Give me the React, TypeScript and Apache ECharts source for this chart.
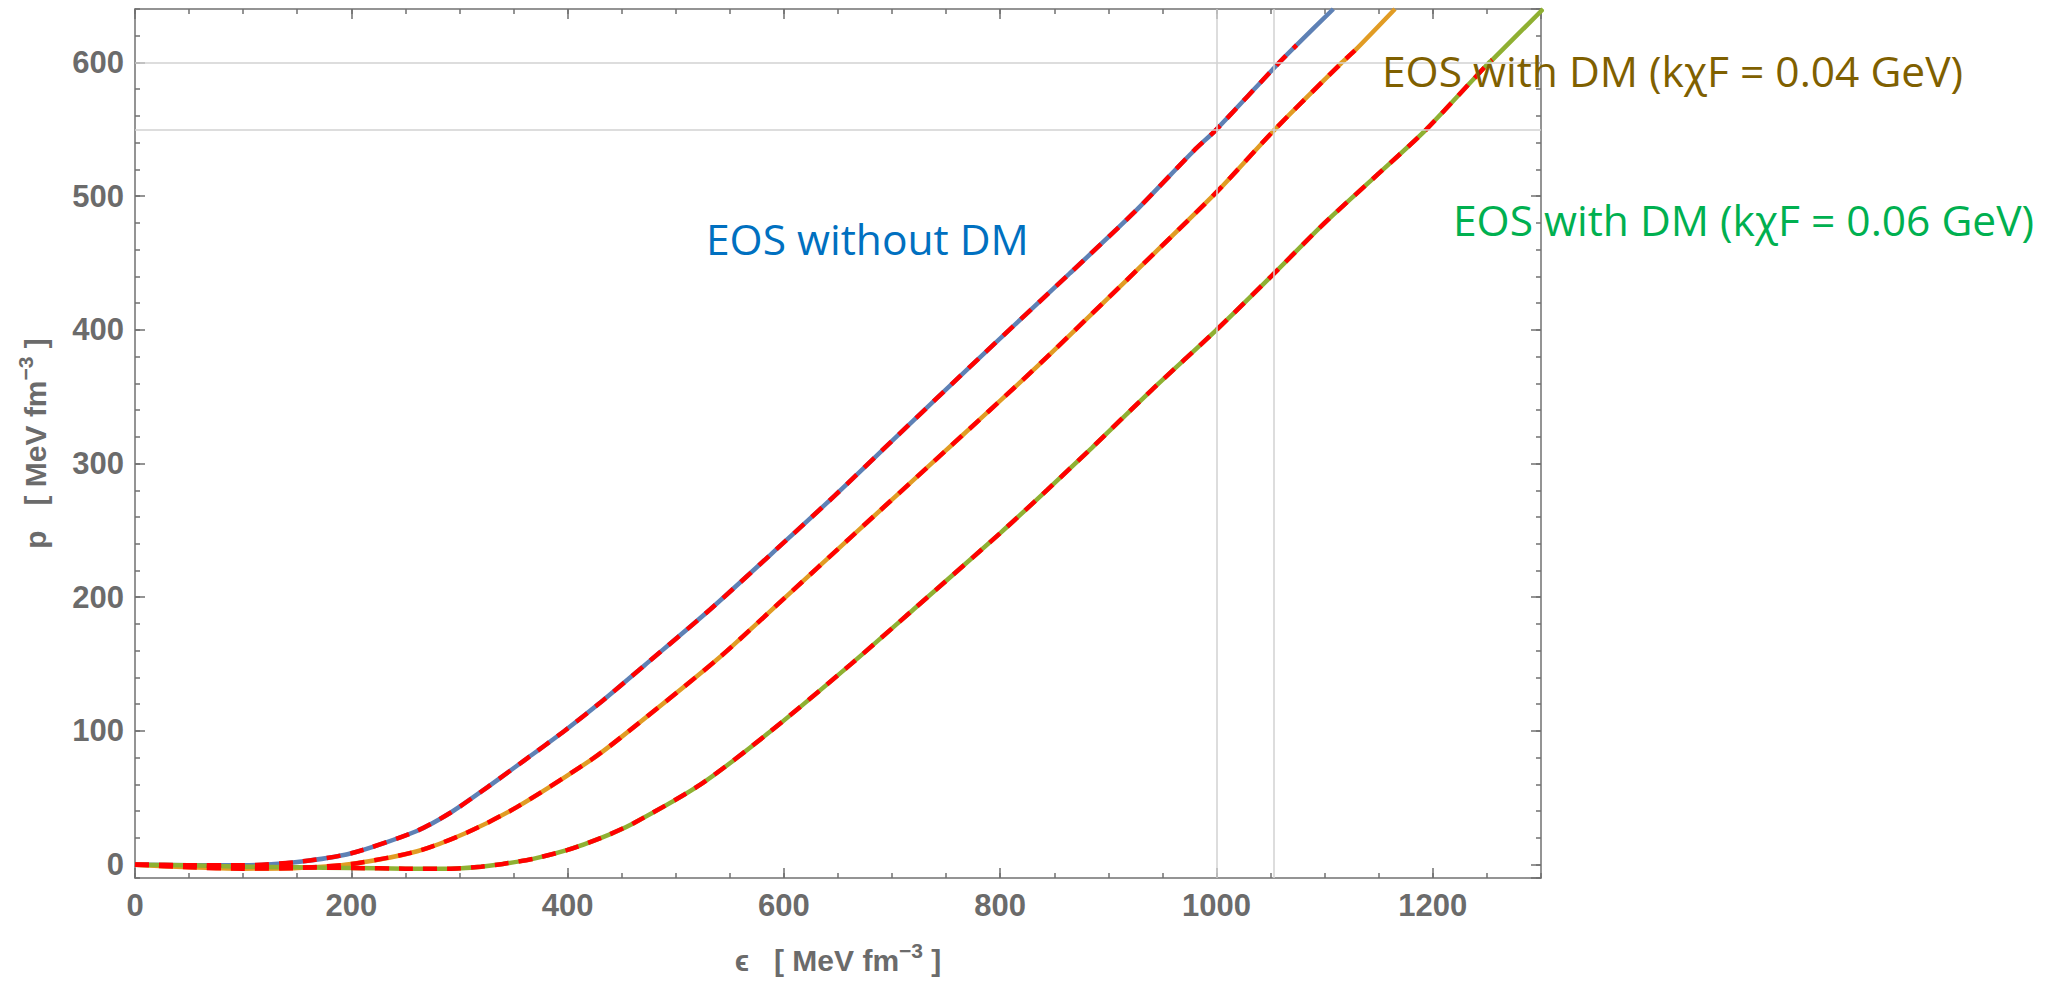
import React, { useEffect, useRef } from "react";
import * as echarts from "echarts";

// ε [MeV fm^-3] and p [MeV fm^-3]
const blueEps = [0, 50, 100, 150, 200, 260, 292, 326, 360, 397, 430, 471, 532, 600, 647, 700, 782, 864, 924, 979, 1000, 1058, 1074, 1108];
const blueP = [0, -0.5, -0.5, 2, 8.5, 25, 39, 58, 78, 100, 121, 149, 191, 241, 276, 317, 380, 442, 488, 534, 550, 600, 613, 640];

const orangeEps = [0, 50, 100, 150, 200, 261, 307, 353, 421, 449, 539, 600, 662, 750, 828, 900, 1000, 1054, 1116, 1128, 1165];
const orangeP = [0, -2, -3, -2.5, 0.5, 10, 24, 43, 78, 95, 154, 199, 245, 310, 368, 424, 503, 550, 600, 609, 640];

const greenEps = [0, 50, 100, 150, 200, 250, 290, 320, 340, 369, 400, 431, 461, 523, 585, 662, 720, 800, 843, 885, 940, 1000, 1053, 1100, 1150, 1194, 1252, 1255, 1302];
const greenP = [0, -0.5, -1.5, -2, -2.5, -3, -3, -1.5, 0.5, 4.5, 11, 20, 31, 60, 98, 150, 191, 248, 280, 312, 355, 400, 442, 480, 517, 550, 600, 602, 640];

// red dashed overlays end at these ε values
const dashEndBlue = 1074;
const dashEndOrange = 1128;
const dashEndGreen = 1255;

// reference grid lines
const gridLinesX = [1000, 1053];
const gridLinesY = [550, 600];

const xRange = [0, 1300];
const yRange = [-10, 640];

const AXIS_COLOR = "#707070";
const LABEL_COLOR = "#6b6b6b";

function pairs(xs: number[], ys: number[]) {
  return xs.map((x, i) => [x, ys[i]]);
}
function upTo(xs: number[], ys: number[], end: number) {
  return pairs(xs, ys).filter((d) => d[0] <= end);
}

const nameRich = {
  b: { fontSize: 30, fontWeight: "bold", fontFamily: "Liberation Sans", color: LABEL_COLOR, lineHeight: 40 },
  s: { fontSize: 21, fontWeight: "bold", fontFamily: "Liberation Sans", color: LABEL_COLOR, verticalAlign: "top" },
};

export default function App() {
  const ref = useRef<HTMLDivElement>(null);
  useEffect(() => {
    if (!ref.current) return;
    const chart = echarts.init(ref.current, undefined, { renderer: "svg" });
    const tickLine = { color: AXIS_COLOR, width: 1.5 };
    const baseX = { type: "value", min: xRange[0], max: xRange[1], splitLine: { show: false } };
    const baseY = { type: "value", min: yRange[0], max: yRange[1], splitLine: { show: false } };
    const noLabel = { show: false };
    const line = (c: string, w: number, dashed: boolean) => ({
      color: c,
      width: w,
      type: dashed ? [14, 10] : "solid",
      dashOffset: 0,
    });
    const curve = (name: string, data: number[][], style: any, z: number) => ({
      name,
      type: "line",
      data,
      showSymbol: false,
      smooth: 0.25,
      silent: true,
      z,
      lineStyle: style,
    });
    chart.setOption({
      animation: false,
      backgroundColor: "#ffffff",
      grid: { left: 135, top: 9, width: 1406, height: 869, containLabel: false, outerBoundsMode: "none" },
      xAxis: [
        {
          ...baseX,
          position: "bottom",
          interval: 200,
          axisLine: { show: true, onZero: false, lineStyle: tickLine },
          axisTick: { show: true, inside: true, length: 10, lineStyle: tickLine },
          axisLabel: {
            show: true,
            margin: 12,
            color: LABEL_COLOR,
            fontSize: 31,
            fontWeight: "bold",
            fontFamily: "Liberation Sans",
            showMaxLabel: false,
            formatter: (v: number) => String(v),
          },
          name: "{b|ϵ   [ MeV fm}{s|−3}{b| ]}",
          nameLocation: "middle",
          nameGap: 62,
          nameTextStyle: { rich: nameRich },
        },
        {
          ...baseX,
          position: "bottom",
          interval: 50,
          axisLine: { show: false, onZero: false },
          axisTick: { show: true, inside: true, length: 5, lineStyle: tickLine },
          axisLabel: noLabel,
        },
        {
          ...baseX,
          position: "top",
          interval: 200,
          axisLine: { show: true, onZero: false, lineStyle: tickLine },
          axisTick: { show: true, inside: true, length: 10, lineStyle: tickLine },
          axisLabel: noLabel,
        },
        {
          ...baseX,
          position: "top",
          interval: 50,
          axisLine: { show: false, onZero: false },
          axisTick: { show: true, inside: true, length: 5, lineStyle: tickLine },
          axisLabel: noLabel,
        },
      ],
      yAxis: [
        {
          ...baseY,
          position: "left",
          minInterval: 100,
          maxInterval: 100,
          axisLine: { show: true, onZero: false, lineStyle: tickLine },
          axisTick: { show: true, inside: true, length: 10, lineStyle: tickLine },
          axisLabel: {
            show: true,
            margin: 11,
            color: LABEL_COLOR,
            fontSize: 31,
            fontWeight: "bold",
            fontFamily: "Liberation Sans",
            showMinLabel: false,
            showMaxLabel: false,
            formatter: (v: number) => String(v),
          },
          name: "{b|p   [ MeV fm}{s|−3}{b| ]}",
          nameLocation: "middle",
          nameGap: 80,
          nameRotate: 90,
          nameTextStyle: { rich: nameRich },
        },
        {
          ...baseY,
          position: "left",
          minInterval: 20,
          maxInterval: 20,
          axisLine: { show: false, onZero: false },
          axisTick: { show: true, inside: true, length: 5, lineStyle: tickLine },
          axisLabel: noLabel,
        },
        {
          ...baseY,
          position: "right",
          minInterval: 100,
          maxInterval: 100,
          axisLine: { show: true, onZero: false, lineStyle: tickLine },
          axisTick: { show: true, inside: true, length: 10, lineStyle: tickLine },
          axisLabel: noLabel,
        },
        {
          ...baseY,
          position: "right",
          minInterval: 20,
          maxInterval: 20,
          axisLine: { show: false, onZero: false },
          axisTick: { show: true, inside: true, length: 5, lineStyle: tickLine },
          axisLabel: noLabel,
        },
      ],
      series: [
        {
          type: "line",
          data: [],
          silent: true,
          z: 1,
          markLine: {
            silent: true,
            symbol: ["none", "none"],
            label: { show: false },
            lineStyle: { color: "#d2d2d2", width: 1.5, type: "solid" },
            emphasis: { disabled: true },
            data: [
              ...gridLinesX.map((v) => ({ xAxis: v })),
              ...gridLinesY.map((v) => ({ yAxis: v })),
            ],
          },
        },
        curve("EOS without DM", pairs(blueEps, blueP), line("#5E81B5", 4.5, false), 2),
        curve("EOS with DM 0.04", pairs(orangeEps, orangeP), line("#E19C24", 4.5, false), 2),
        curve("EOS with DM 0.06", pairs(greenEps, greenP), line("#8FB032", 4.5, false), 2),
        curve("fit without DM", upTo(blueEps, blueP, dashEndBlue), line("#FF0000", 4.5, true), 3),
        curve("fit 0.04", upTo(orangeEps, orangeP, dashEndOrange), line("#FF0000", 4.5, true), 3),
        curve("fit 0.06", upTo(greenEps, greenP, dashEndGreen), line("#FF0000", 4.5, true), 3),
      ],
      graphic: [
        {
          type: "text",
          x: 706,
          y: 238,
          z: 10,
          style: { text: "EOS without DM", fill: "#0070C0", fontSize: 42.5, fontFamily: "Open Sans", verticalAlign: "middle" },
        },
        {
          type: "text",
          x: 1382,
          y: 70,
          z: 10,
          style: { text: "EOS with DM (kχF = 0.04 GeV)", fill: "#7F6000", fontSize: 42.5, fontFamily: "Open Sans", verticalAlign: "middle" },
        },
        {
          type: "text",
          x: 1453,
          y: 219,
          z: 10,
          style: { text: "EOS with DM (kχF = 0.06 GeV)", fill: "#00B050", fontSize: 42.5, fontFamily: "Open Sans", verticalAlign: "middle" },
        },
      ],
    });
    return () => chart.dispose();
  }, []);
  return (
    <div
      ref={ref}
      style={{ position: "fixed", left: 0, top: 0, width: 2046, height: 988, background: "#fff" }}
    />
  );
}
